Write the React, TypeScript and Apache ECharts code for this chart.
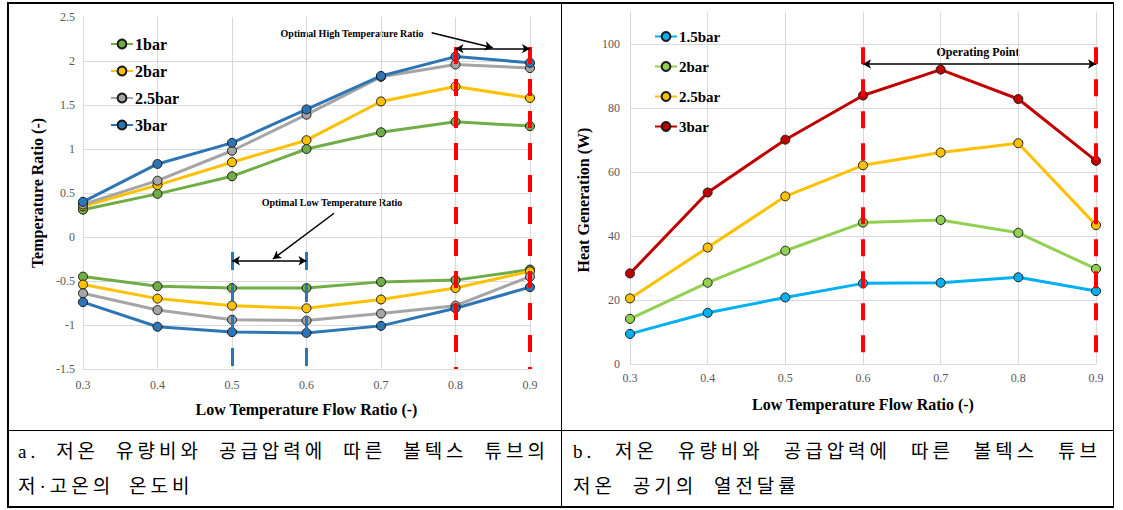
import React, { useEffect, useRef } from "react";
import * as echarts from "echarts";

// ---------- data ----------
const flowRatios = [0.3, 0.4, 0.5, 0.6, 0.7, 0.8, 0.9];

// left chart: temperature ratio (high side, low side)
const leftNames = ["1bar", "2bar", "2.5bar", "3bar"];
const highRatio1bar = [0.31, 0.49, 0.69, 1.0, 1.19, 1.31, 1.26];
const highRatio2bar = [0.35, 0.59, 0.85, 1.1, 1.54, 1.71, 1.58];
const highRatio25bar = [0.37, 0.64, 0.98, 1.39, 1.82, 1.96, 1.92];
const highRatio3bar = [0.4, 0.83, 1.07, 1.45, 1.83, 2.05, 1.98];
const lowRatio1bar = [-0.45, -0.56, -0.58, -0.58, -0.51, -0.49, -0.37];
const lowRatio2bar = [-0.54, -0.7, -0.78, -0.81, -0.71, -0.58, -0.39];
const lowRatio25bar = [-0.64, -0.83, -0.94, -0.95, -0.87, -0.78, -0.45];
const lowRatio3bar = [-0.74, -1.02, -1.08, -1.09, -1.01, -0.81, -0.57];

// right chart: heat generation (W)
const rightNames = ["1.5bar", "2bar", "2.5bar", "3bar"];
const heat15bar = [9.4, 16.0, 20.8, 25.2, 25.4, 27.1, 22.8];
const heat2bar = [14.1, 25.4, 35.4, 44.2, 45.0, 41.0, 29.7];
const heat25bar = [20.5, 36.4, 52.4, 62.1, 66.1, 69.0, 43.4];
const heat3bar = [28.3, 53.6, 70.1, 83.9, 92.0, 82.8, 63.5];

const leftYTicks = { min: -1.5, max: 2.5, interval: 0.5 };
const rightYTicks = { min: 0, max: 110, interval: 20 };

const captionA1 = "a. 저온 유량비와 공급압력에 따른 볼텍스 튜브의";
const captionA2 = "저·고온의 온도비";
const captionB1 = "b. 저온 유량비와 공급압력에 따른 볼텍스 튜브";
const captionB2 = "저온 공기의 열전달률";

// ---------- helpers ----------
const SERIF = '"Liberation Serif", "Times New Roman", serif';
const GRID = "#D9D9D9";
const pairs = (vals: number[]) => flowRatios.map((x, i) => [x, vals[i]]);

const lineSeries = (name: string, vals: number[], color: string) => ({
  type: "line",
  name,
  data: pairs(vals),
  symbol: "circle",
  symbolSize: 9,
  lineStyle: { color, width: 3 },
  itemStyle: { color, borderColor: "#1a1a1a", borderWidth: 1 },
  emphasis: { disabled: true },
  z: 3,
});

const xAxisCfg = (labelMargin: number) => ({
  type: "value",
  min: 0.3,
  max: 0.9,
  interval: 0.1,
  name: "Low Temperature Flow Ratio (-)",
  nameLocation: "middle",
  nameGap: 32,
  nameTextStyle: { fontFamily: SERIF, fontWeight: "bold", fontSize: 16, color: "#000" },
  axisLine: { onZero: false, lineStyle: { color: GRID, width: 1 } },
  axisTick: { show: false },
  axisLabel: {
    margin: labelMargin,
    fontFamily: SERIF,
    fontSize: 12,
    color: "#595959",
    formatter: (v: number) => v.toFixed(1),
  },
  splitLine: { show: true, lineStyle: { color: GRID, width: 1 } },
});

const markSeries = (data: any[], lineStyle: any, symbol: any, symbolSize: any = 8) => ({
  type: "line",
  name: "",
  data: [],
  z: 10,
  markLine: {
    silent: true,
    animation: false,
    symbol,
    symbolSize,
    label: { show: false },
    lineStyle,
    emphasis: { disabled: true },
    data,
  },
});

export default function App() {
  const leftRef = useRef<HTMLDivElement>(null);
  const rightRef = useRef<HTMLDivElement>(null);

  useEffect(() => {
    const left = echarts.init(leftRef.current!, null, { renderer: "svg" });
    const right = echarts.init(rightRef.current!, null, { renderer: "svg" });

    const leftColors = ["#70AD47", "#FFC000", "#A5A5A5", "#2E75B6"];
    const highs = [highRatio1bar, highRatio2bar, highRatio25bar, highRatio3bar];
    const lows = [lowRatio1bar, lowRatio2bar, lowRatio25bar, lowRatio3bar];

    left.setOption({
      animation: false,
      grid: { left: 83, right: 31, top: 17, bottom: 61 },
      legend: {
        data: leftNames,
        orient: "vertical",
        left: 105,
        top: 31,
        itemGap: 11,
        itemWidth: 22,
        itemHeight: 11,
        selectedMode: false,
        textStyle: { fontFamily: SERIF, fontWeight: "bold", fontSize: 16, color: "#000", padding: [0, 0, 0, -3] },
      },
      xAxis: xAxisCfg(10),
      yAxis: {
        type: "value",
        min: leftYTicks.min,
        max: leftYTicks.max,
        interval: leftYTicks.interval,
        name: "Temperature Ratio (-)",
        nameLocation: "middle",
        nameGap: 35,
        nameTextStyle: { fontFamily: SERIF, fontWeight: "bold", fontSize: 16, color: "#000" },
        axisLine: { show: true, lineStyle: { color: GRID } },
        axisTick: { show: false },
        axisLabel: { margin: 8, fontFamily: SERIF, fontSize: 12, color: "#595959" },
        splitLine: {
          show: true,
          lineStyle: { color: [GRID, GRID, GRID, GRID, GRID, GRID, GRID, GRID, "rgba(0,0,0,0)"] },
        },
      },
      series: [
        ...leftNames.map((n, i) => lineSeries(n, highs[i], leftColors[i])),
        ...leftNames.map((n, i) => lineSeries(n, lows[i], leftColors[i])),
        markSeries(
          [
            [{ coord: [0.5, -0.17] }, { coord: [0.5, -1.5] }],
            [{ coord: [0.6, -0.17] }, { coord: [0.6, -1.5] }],
          ],
          { color: "#2E75B6", width: 3, type: [18, 14] },
          "none"
        ),
        markSeries(
          [
            [{ coord: [0.8, 2.16] }, { coord: [0.8, -1.5] }],
            [{ coord: [0.9, 2.16] }, { coord: [0.9, -1.5] }],
          ],
          { color: "#FF0000", width: 4, type: [17, 15] },
          "none"
        ),
        markSeries(
          [
            [{ coord: [0.8, 2.14] }, { coord: [0.9, 2.14] }],
            [{ coord: [0.5, -0.27] }, { coord: [0.6, -0.27] }],
          ],
          { color: "#000", width: 1.5, type: "solid" },
          ["arrow", "arrow"],
          [7, 8]
        ),
        markSeries(
          [
            [{ coord: [0.768, 2.32] }, { coord: [0.85, 2.15] }],
            [{ coord: [0.637, 0.27] }, { coord: [0.555, -0.25] }],
          ],
          { color: "#000", width: 1.5, type: "solid" },
          ["none", "arrow"],
          [7, 8]
        ),
      ],
      graphic: [
        {
          type: "text",
          x: 352,
          y: 33,
          style: {
            text: "Optimal High Temperature Ratio",
            font: `bold 10px ${SERIF}`,
            fill: "#000",
            align: "center",
            verticalAlign: "middle",
          },
        },
        {
          type: "text",
          x: 332,
          y: 202,
          style: {
            text: "Optimal Low Temperature Ratio",
            font: `bold 10px ${SERIF}`,
            fill: "#000",
            align: "center",
            verticalAlign: "middle",
          },
        },
      ],
    });

    const rightColors = ["#00B0F0", "#92D050", "#FFC000", "#C00000"];
    const heats = [heat15bar, heat2bar, heat25bar, heat3bar];

    right.setOption({
      animation: false,
      grid: { left: 69, right: 27, top: 12, bottom: 66 },
      legend: {
        data: rightNames,
        orient: "vertical",
        left: 88,
        top: 24,
        itemGap: 15,
        itemWidth: 22,
        itemHeight: 11,
        selectedMode: false,
        textStyle: { fontFamily: SERIF, fontWeight: "bold", fontSize: 15, color: "#000", padding: [0, 0, 0, -3] },
      },
      xAxis: xAxisCfg(8),
      yAxis: {
        type: "value",
        min: rightYTicks.min,
        max: rightYTicks.max,
        interval: rightYTicks.interval,
        name: "Heat Generation (W)",
        nameLocation: "middle",
        nameGap: 32,
        nameTextStyle: { fontFamily: SERIF, fontWeight: "bold", fontSize: 16, color: "#000", padding: [0, 24, 0, 0] },
        axisLine: { show: true, lineStyle: { color: GRID } },
        axisTick: { show: false },
        axisLabel: {
          margin: 10,
          fontFamily: SERIF,
          fontSize: 12,
          color: "#595959",
          showMaxLabel: false,
        },
        splitLine: {
          show: true,
          lineStyle: { color: [GRID, GRID, GRID, GRID, GRID, GRID, "rgba(0,0,0,0)"] },
        },
      },
      series: [
        ...rightNames.map((n, i) => lineSeries(n, heats[i], rightColors[i])),
        markSeries(
          [
            [{ coord: [0.6, 99] }, { coord: [0.6, 0] }],
            [{ coord: [0.9, 99] }, { coord: [0.9, 0] }],
          ],
          { color: "#FF0000", width: 4, type: [17, 15] },
          "none"
        ),
        markSeries(
          [[{ coord: [0.6, 93.75] }, { coord: [0.9, 93.75] }]],
          { color: "#000", width: 1.5, type: "solid" },
          ["arrow", "arrow"],
          [7, 8]
        ),
      ],
      graphic: [
        {
          type: "text",
          x: 417,
          y: 52,
          style: {
            text: "Operating Point",
            font: `bold 12px ${SERIF}`,
            fill: "#000",
            align: "center",
            verticalAlign: "middle",
          },
        },
      ],
    });

    return () => {
      left.dispose();
      right.dispose();
    };
  }, []);

  const capBase: React.CSSProperties = {
    position: "absolute",
    fontFamily: '"Liberation Serif", "Noto Sans CJK KR", serif',
    fontSize: 19,
    letterSpacing: "4px",
    lineHeight: "24px",
    color: "#000",
  };
  const justified: React.CSSProperties = {
    ...capBase,
    textAlign: "justify",
    textAlignLast: "justify" as any,
  };
  const line = (s: React.CSSProperties): React.CSSProperties => ({
    position: "absolute",
    background: "#000",
    ...s,
  });

  return (
    <div style={{ position: "absolute", left: 0, top: 0, width: 1123, height: 510, background: "#fff", overflow: "hidden" }}>
      <div ref={leftRef} style={{ position: "absolute", left: 0, top: 0, width: 561, height: 430 }} />
      <div ref={rightRef} style={{ position: "absolute", left: 561, top: 0, width: 562, height: 430 }} />

      {/* table borders */}
      <div style={line({ left: 7, top: 2, width: 1107, height: 1.5 })} />
      <div style={line({ left: 7, top: 506, width: 1107, height: 1.5 })} />
      <div style={line({ left: 7, top: 2, width: 1.5, height: 505.5 })} />
      <div style={line({ left: 1112.5, top: 2, width: 1.5, height: 505.5 })} />
      <div style={line({ left: 560.5, top: 2, width: 1.5, height: 505.5 })} />
      <div style={line({ left: 7, top: 429.5, width: 1107, height: 1.5 })} />

      {/* captions */}
      <div style={{ ...justified, left: 18, top: 440, width: 531 }}>{captionA1}</div>
      <div style={{ ...capBase, left: 18, top: 475, wordSpacing: "6px" }}>{captionA2}</div>
      <div style={{ ...justified, left: 573, top: 440, width: 528 }}>{captionB1}</div>
      <div style={{ ...capBase, left: 573, top: 475, wordSpacing: "8px" }}>{captionB2}</div>
    </div>
  );
}
